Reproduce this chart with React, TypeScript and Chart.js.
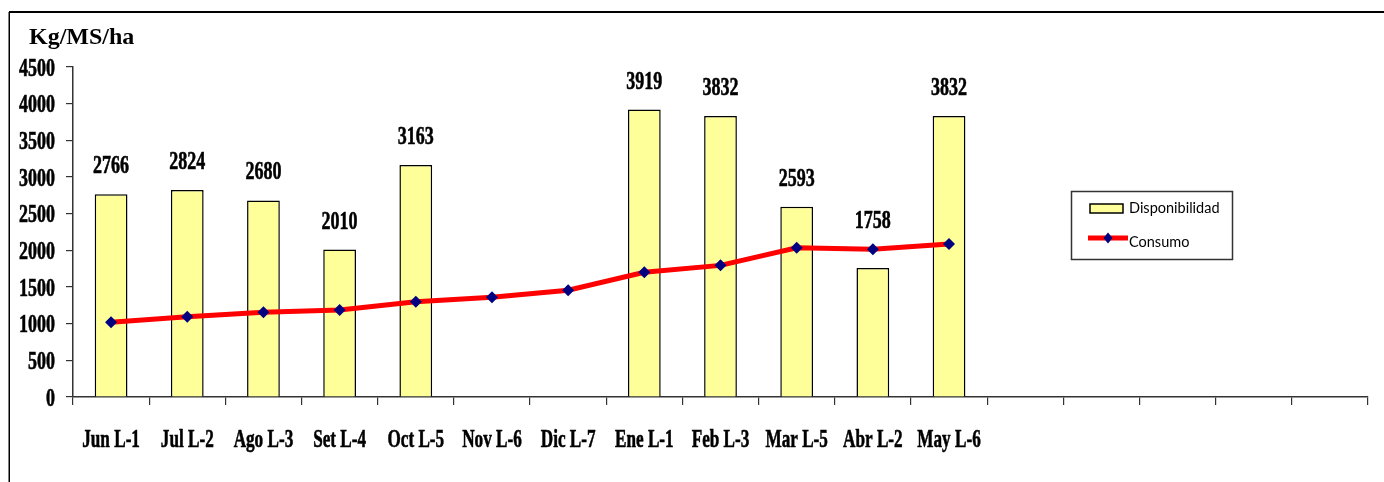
import React, { useEffect, useRef } from 'react';
import { Chart, registerables } from 'chart.js';

Chart.register(...registerables);

const categories = ['Jun L-1', 'Jul L-2', 'Ago L-3', 'Set L-4', 'Oct L-5', 'Nov L-6', 'Dic L-7', 'Ene L-1', 'Feb L-3', 'Mar L-5', 'Abr L-2', 'May L-6'];
const extraCategories = ['', '', '', '', ''];
const disponibilidad: (number | null)[] = [2766, 2824, 2680, 2010, 3163, null, null, 3919, 3832, 2593, 1758, 3832];
const consumo = [1020, 1095, 1155, 1185, 1300, 1360, 1455, 1700, 1795, 2035, 2015, 2085];
const yMin = 0;
const yMax = 4500;
const yStep = 500;
const axisTitle = 'Kg/MS/ha';
const seriesNames = ['Disponibilidad', 'Consumo'];

const BAR_FILL = '#FFFF99';
const LINE_RED = '#FF0000';
const MARKER = '#000080';
const AXIS = '#333333';

function squashText(ctx: CanvasRenderingContext2D, text: string, x: number, y: number, font: string, sx: number, align: CanvasTextAlign) {
  ctx.save();
  ctx.font = font;
  ctx.translate(x, y);
  ctx.scale(sx, 1);
  ctx.textAlign = align;
  ctx.textBaseline = 'alphabetic';
  ctx.fillStyle = '#000';
  ctx.strokeStyle = '#000';
  ctx.lineWidth = 0.6;
  ctx.fillText(text, 0, 0);
  ctx.strokeText(text, 0, 0);
  ctx.restore();
}

function diamond(ctx: CanvasRenderingContext2D, x: number, y: number, rx: number, ry: number) {
  ctx.beginPath();
  ctx.moveTo(x, y - ry);
  ctx.lineTo(x + rx, y);
  ctx.lineTo(x, y + ry);
  ctx.lineTo(x - rx, y);
  ctx.closePath();
  ctx.fill();
}

const overlayPlugin = {
  id: 'overlay',
  afterDraw(chart: any) {
    const ctx: CanvasRenderingContext2D = chart.ctx;
    const xs = chart.scales.x;
    const ys = chart.scales.y;
    ctx.save();

    // frame
    ctx.fillStyle = '#000';
    ctx.fillRect(9, 11, 1375, 2);
    ctx.fillRect(8.5, 12, 1.5, 470);

    // title
    ctx.font = 'bold 24px "Liberation Serif"';
    ctx.textAlign = 'left';
    ctx.textBaseline = 'alphabetic';
    ctx.fillStyle = '#000';
    ctx.fillText(axisTitle, 29, 44);

    // y tick labels
    ys.ticks.forEach((t: any, i: number) => {
      const py = ys.getPixelForTick(i);
      squashText(ctx, String(t.value), 55, py + 8.5, 'bold 25px "Liberation Serif"', 0.72, 'right');
    });

    // x labels
    const labels: string[] = chart.data.labels;
    labels.forEach((lbl, i) => {
      if (!lbl) return;
      squashText(ctx, lbl, xs.getPixelForValue(i), 447, 'bold 26px "Liberation Serif"', 0.66, 'center');
    });

    // bar value labels
    const barMeta = chart.getDatasetMeta(1);
    barMeta.data.forEach((el: any, i: number) => {
      const v = disponibilidad[i];
      if (v == null) return;
      const top = Math.min(el.y, ys.getPixelForValue(consumo[i]));
      squashText(ctx, String(v), el.x, top - 21, 'bold 25px "Liberation Serif"', 0.72, 'center');
    });

    // legend
    ctx.strokeStyle = AXIS;
    ctx.lineWidth = 1.5;
    ctx.strokeRect(1071.5, 191.5, 161, 68);
    ctx.fillStyle = BAR_FILL;
    ctx.fillRect(1090, 204, 33, 9);
    ctx.strokeStyle = '#000';
    ctx.lineWidth = 1.5;
    ctx.strokeRect(1090, 204, 33, 9);
    ctx.fillStyle = '#000';
    ctx.font = '14.5px Lato';
    ctx.textAlign = 'left';
    ctx.fillText(seriesNames[0], 1129, 213);
    ctx.strokeStyle = LINE_RED;
    ctx.lineWidth = 5;
    ctx.beginPath();
    ctx.moveTo(1088, 238);
    ctx.lineTo(1128, 238);
    ctx.stroke();
    ctx.fillStyle = MARKER;
    diamond(ctx, 1108, 238, 4.5, 5.5);
    ctx.fillStyle = '#000';
    ctx.fillText(seriesNames[1], 1129, 247);

    ctx.restore();
  },
};

export default function App() {
  const canvasRef = useRef<HTMLCanvasElement | null>(null);

  useEffect(() => {
    if (!canvasRef.current) return;
    const chart = new Chart(canvasRef.current, {
      type: 'bar',
      data: {
        labels: [...categories, ...extraCategories],
        datasets: [
          {
            type: 'line',
            label: seriesNames[1],
            data: consumo,
            borderColor: LINE_RED,
            borderWidth: 5,
            backgroundColor: MARKER,
            pointStyle: 'rectRot',
            pointRadius: 6,
            pointBackgroundColor: MARKER,
            pointBorderColor: MARKER,
            pointBorderWidth: 0,
            tension: 0,
            fill: false,
            order: 0,
          } as any,
          {
            type: 'bar',
            label: seriesNames[0],
            data: disponibilidad,
            backgroundColor: BAR_FILL,
            borderColor: '#000',
            borderWidth: 1.5,
            barPercentage: 0.43,
            categoryPercentage: 1,
            order: 1,
          } as any,
        ],
      },
      options: {
        responsive: false,
        animation: false,
        devicePixelRatio: 1,
        layout: { padding: { top: 67, left: 0, right: 16, bottom: 77 } },
        plugins: {
          legend: { display: false },
          tooltip: { enabled: false },
        },
        scales: {
          x: {
            type: 'category',
            offset: true,
            grid: { offset: true, drawOnChartArea: false, drawTicks: true, tickLength: 8, color: AXIS, lineWidth: 1.2 },
            border: { color: AXIS, width: 1.5 },
            ticks: { display: false },
            afterFit: (s: any) => { s.height = 8; },
          },
          y: {
            min: yMin,
            max: yMax,
            ticks: { display: false, stepSize: yStep },
            grid: { drawOnChartArea: false, drawTicks: true, tickLength: 7, color: AXIS, lineWidth: 1.2 },
            border: { color: AXIS, width: 1.5 },
            afterFit: (s: any) => { s.width = 73; },
          },
        },
      },
      plugins: [overlayPlugin],
    });
    return () => chart.destroy();
  }, []);

  return (
    <div style={{ position: 'fixed', left: 0, top: 0, width: 1384, height: 482, background: '#fff' }}>
      <canvas ref={canvasRef} width={1384} height={482} style={{ display: 'block', width: 1384, height: 482 }} />
    </div>
  );
}
